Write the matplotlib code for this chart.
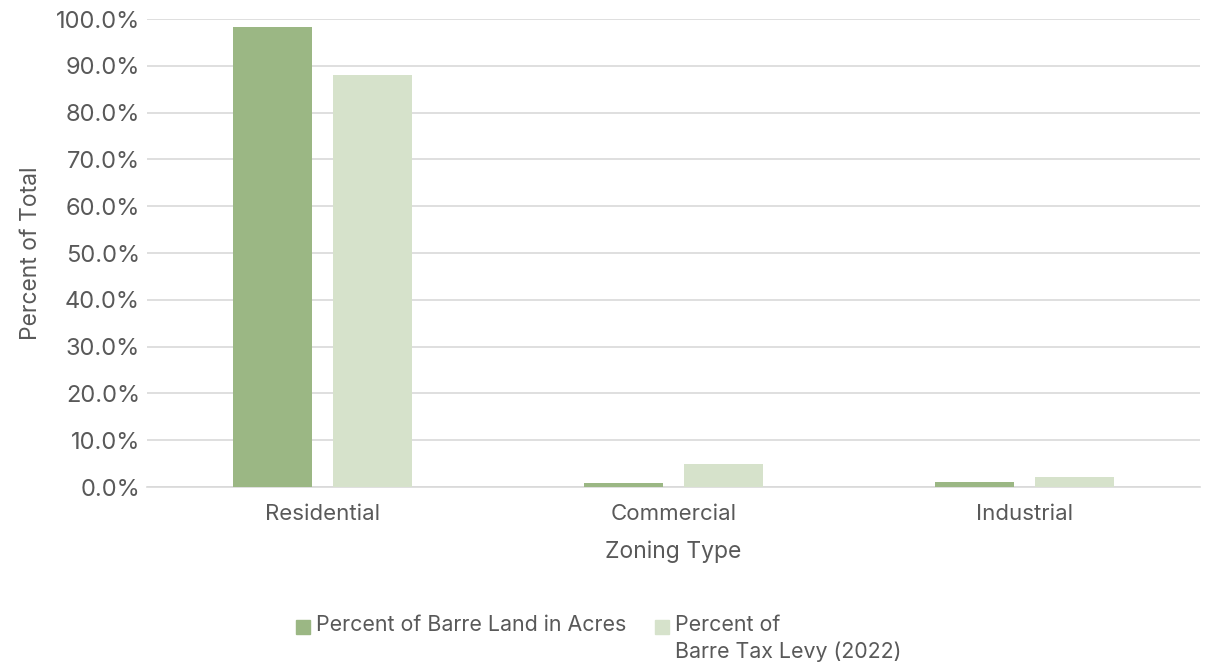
import numpy as np
import matplotlib.pyplot as plt
from matplotlib.patches import Rectangle
from matplotlib.ticker import FuncFormatter

plt.rcParams['font.family'] = ['Inter', 'DejaVu Sans']

categories = ["Residential", "Commercial", "Industrial"]
land_pct = [98.3, 0.8, 1.0]
levy_pct = [88.0, 4.9, 2.1]
series_names = ["Percent of Barre Land in Acres", "Percent of\nBarre Tax Levy (2022)"]

DARK = "#9bb784"
LIGHT = "#d6e2cb"
TEXT = "#595959"
GRID = "#d9d9d9"

fig = plt.figure(figsize=(12.05, 6.7), dpi=100)
ax = fig.add_axes([147 / 1205, 1 - 487 / 670, 1053 / 1205, 468 / 670])

x = np.arange(len(categories))
w = 0.225
off = 0.1425
ax.bar(x - off, land_pct, w, color=DARK, zorder=3)
ax.bar(x + off, levy_pct, w, color=LIGHT, zorder=3)

ax.set_xlim(-0.5, 2.5)
ax.set_ylim(0, 100)
ax.set_yticks(np.arange(0, 101, 10))
ax.yaxis.set_major_formatter(FuncFormatter(lambda v, _: f"{v:.1f}%"))
ax.set_xticks(x)
ax.set_xticklabels(categories)

ax.grid(axis="y", color=GRID, linewidth=1.2, zorder=0)
for s in ["top", "right", "left"]:
    ax.spines[s].set_visible(False)
ax.spines["bottom"].set_color(GRID)
ax.spines["bottom"].set_linewidth(1.2)
ax.tick_params(axis="both", length=0, colors=TEXT)
ax.tick_params(axis="x", pad=12, labelsize=16)
ax.tick_params(axis="y", pad=5, labelsize=17)

ax.set_xlabel("Zoning Type", color=TEXT, fontsize=16.5, labelpad=12)
ax.set_ylabel("Percent of Total", color=TEXT, fontsize=16.5, labelpad=10)

# legend, laid out by hand so the handle sits on the first line of a wrapped label
leg_items = [(series_names[0], DARK, 296), (series_names[1], LIGHT, 655)]
for name, col, px in leg_items:
    fig.patches.append(Rectangle((px / 1205, 1 - 634 / 670), 14 / 1205, 14 / 670,
                                 transform=fig.transFigure, color=col))
    fig.text((px + 20) / 1205, 1 - 615 / 670, name, color=TEXT, fontsize=15.4,
             va="top", ha="left", linespacing=1.4)

fig.savefig("out.png", dpi=100)
